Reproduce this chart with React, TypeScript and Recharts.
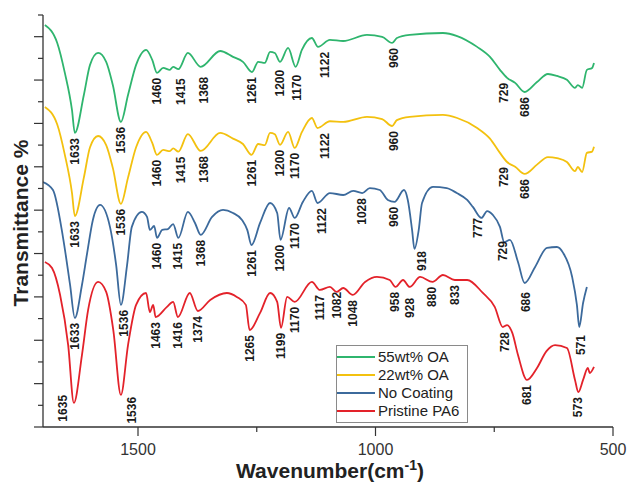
import React from 'react';
import { ComposedChart, Line, Scatter, XAxis, YAxis, Legend } from 'recharts';

// wavenumber (cm-1), transmittance (offset, arbitrary units)
const green55 = [
  [1696, 18.54], [1670, 17.71], [1654, 16.33], [1639, 14.62], [1633, 13.56], [1614, 15.31],
  [1601, 16.7], [1584, 17.25], [1567, 16.84], [1553, 15.77], [1536, 14.07], [1521, 15.31],
  [1504, 16.7], [1483, 17.39], [1470, 16.93], [1460, 16.33], [1447, 16.56], [1433, 16.47],
  [1426, 16.61], [1415, 16.5], [1395, 17.25], [1368, 16.61], [1327, 17.34], [1300, 17.07],
  [1279, 16.84], [1260, 16.37], [1247, 16.84], [1233, 16.79], [1222, 17.3], [1212, 17.25],
  [1201, 16.84], [1184, 17.48], [1168, 16.61], [1155, 17.39], [1134, 17.94], [1121, 17.53],
  [1096, 17.85], [1068, 17.8], [1018, 18.08], [986, 17.99], [965, 17.71], [955, 17.94],
  [928, 18.08], [858, 18.17], [828, 18.03], [786, 17.53], [759, 17.07], [738, 16.47],
  [723, 16.1], [706, 15.87], [686, 15.45], [660, 15.91], [637, 16.28], [618, 16.19],
  [597, 16.01], [580, 15.64], [574, 15.77], [565, 15.64], [555, 16.47], [544, 16.56],
  [540, 16.79],
];

const yellow22 = [
  [1696, 14.76], [1670, 13.95], [1654, 12.55], [1639, 10.8], [1633, 9.73], [1614, 11.5],
  [1601, 12.9], [1584, 13.42], [1567, 13.0], [1553, 11.95], [1536, 10.29], [1521, 11.5],
  [1504, 12.9], [1483, 13.61], [1470, 13.1], [1460, 12.55], [1447, 12.78], [1433, 12.72],
  [1426, 12.85], [1415, 12.7], [1395, 13.51], [1368, 12.73], [1327, 13.56], [1300, 13.3],
  [1279, 13.05], [1261, 12.55], [1247, 13.05], [1233, 13.0], [1222, 13.56], [1212, 13.5],
  [1201, 13.01], [1184, 13.61], [1170, 12.87], [1155, 13.6], [1134, 14.25], [1122, 13.79],
  [1096, 14.1], [1068, 14.07], [1018, 14.3], [986, 14.2], [965, 13.88], [955, 14.15],
  [928, 14.3], [858, 14.39], [828, 14.25], [786, 13.79], [759, 13.3], [738, 12.64],
  [723, 12.22], [706, 12.0], [686, 11.67], [660, 12.1], [637, 12.45], [618, 12.4],
  [597, 12.22], [580, 11.8], [574, 11.99], [565, 11.76], [555, 12.64], [544, 12.7],
  [540, 12.92],
];

const noCoating = [
  [1700, 11.3], [1679, 10.93], [1658, 8.76], [1643, 6.55], [1633, 5.03], [1618, 6.55],
  [1607, 8.03], [1595, 9.55], [1580, 10.24], [1559, 9.23], [1546, 7.47], [1536, 5.63],
  [1523, 7.47], [1513, 9.23], [1492, 9.92], [1481, 9.69], [1475, 9.09], [1466, 9.27],
  [1460, 8.72], [1449, 9.09], [1437, 9.13], [1426, 9.36], [1415, 8.72], [1395, 9.92],
  [1380, 9.41], [1368, 8.86], [1344, 9.69], [1321, 10.01], [1300, 9.87], [1281, 9.55],
  [1270, 9.09], [1261, 8.39], [1243, 9.41], [1222, 10.33], [1207, 9.87], [1200, 8.63],
  [1182, 10.1], [1170, 9.64], [1153, 10.38], [1134, 10.89], [1122, 10.33], [1096, 10.79],
  [1068, 10.7], [1047, 10.89], [1028, 10.79], [1012, 11.02], [991, 10.93], [974, 10.47],
  [960, 10.38], [940, 10.93], [932, 10.47], [923, 9.09], [918, 8.21], [909, 9.09],
  [902, 10.33], [879, 11.07], [850, 11.02], [829, 10.79], [807, 10.47], [795, 10.15],
  [777, 9.64], [765, 9.96], [753, 9.78], [738, 9.23], [729, 8.53], [717, 8.63],
  [700, 7.61], [686, 6.64], [664, 7.38], [639, 8.26], [618, 8.3], [605, 8.03],
  [586, 6.92], [576, 5.63], [571, 4.61], [563, 5.72], [555, 6.46],
];

const pristinePA6 = [
  [1696, 7.61], [1681, 7.33], [1664, 6.09], [1647, 3.78], [1635, 1.11], [1618, 3.32],
  [1605, 5.4], [1584, 6.69], [1567, 6.23], [1552, 4.47], [1536, 1.48], [1521, 3.78],
  [1504, 5.63], [1483, 6.18], [1475, 5.3], [1468, 5.63], [1463, 5.07], [1439, 5.54],
  [1426, 5.77], [1416, 5.07], [1391, 6.18], [1374, 5.35], [1348, 5.86], [1313, 6.18],
  [1292, 6.0], [1273, 5.63], [1265, 4.47], [1243, 5.26], [1222, 6.18], [1207, 5.77],
  [1199, 4.57], [1186, 6.0], [1170, 5.77], [1134, 6.69], [1117, 6.32], [1096, 6.46],
  [1082, 6.23], [1068, 6.41], [1048, 6.09], [1022, 6.69], [997, 6.92], [970, 6.78],
  [958, 6.46], [942, 6.78], [928, 6.46], [906, 6.92], [880, 6.69], [858, 7.01],
  [833, 6.78], [807, 6.78], [774, 6.18], [749, 5.54], [732, 4.61], [723, 4.7],
  [712, 4.34], [700, 3.32], [681, 2.17], [660, 2.72], [640, 3.5], [622, 3.78], [597, 3.64],
  [580, 2.17], [573, 1.61], [563, 2.17], [553, 2.72], [549, 2.49], [540, 2.77],
];

const greenPeaks = ['1633', '1536', '1460', '1415', '1368', '1261', '1200', '1170', '1122', '960', '729', '686'];
const yellowPeaks = ['1633', '1536', '1460', '1415', '1368', '1261', '1200', '1170', '1122', '960', '729', '686'];
const bluePeaks = ['1633', '1536', '1460', '1415', '1368', '1261', '1200', '1170', '1122', '1028', '960', '918', '777', '729', '686', '571'];
const redPeaks = ['1635', '1536', '1463', '1416', '1374', '1265', '1199', '1170', '1117', '1082', '1048', '958', '928', '880', '833', '728', '681', '573'];

const xTicks = [1500, 1250, 1000, 750, 500];
const yTicks = Array.from({ length: 20 }, (_, i) => i);

const SERIES = [
  { key: 'green', name: '55wt% OA', color: '#2fb56e', points: green55, peaks: greenPeaks },
  { key: 'yellow', name: '22wt% OA', color: '#f3c10f', points: yellow22, peaks: yellowPeaks },
  { key: 'blue', name: 'No Coating', color: '#3c6a9c', points: noCoating, peaks: bluePeaks },
  { key: 'red', name: 'Pristine PA6', color: '#e3222a', points: pristinePA6, peaks: redPeaks },
];

// small pixel nudges for peak labels that sit off the dip
const NUDGE: Record<string, [number, number]> = {
  'red-1635': [-11, -13],
  'red-1536': [11, -3],
  'red-928': [0, 6],
  'red-1082': [0, -5],
  'blue-1536': [3, 0],
  'blue-918': [8, -3],
  'blue-1122': [4, 0],
  'blue-777': [-3, -5],
  'blue-729': [-1, -6],
  'blue-686': [1, 4],
  'blue-571': [2, 3],
  'green-1122': [7, 0],
  'yellow-1122': [7, 0],
  'green-1415': [3, 4],
  'green-1368': [3, 5],
  'green-1200': [0, 3],
  'green-1170': [2, 3],
  'yellow-1415': [3, 0],
  'yellow-1368': [3, 0],
};

const FONT = 'Arial, "Liberation Sans", sans-serif';

const toXY = (pts: number[][]) => pts.map(([x, y]) => ({ x, y }));

const peakData = (s: typeof SERIES[number]) =>
  s.peaks.map((t) => {
    const wn = Number(t);
    const near = s.points.filter(([x]) => Math.abs(x - wn) <= 7).map(([, y]) => y);
    const y = near.length ? Math.min(...near) : s.points.reduce((a, b) => (Math.abs(b[0] - wn) < Math.abs(a[0] - wn) ? b : a))[1];
    return { x: wn, y, text: t, id: `${s.key}-${t}` };
  });

const PeakLabel = (props: any) => {
  const { cx, cy, payload } = props;
  const [dx, dy] = NUDGE[payload.id] || [0, 0];
  const x = cx + dx;
  const y = cy + 5 + dy;
  return (
    <text
      x={x}
      y={y}
      transform={`rotate(-90 ${x} ${y})`}
      textAnchor="end"
      dominantBaseline="central"
      fontSize={12}
      fontWeight="bold"
      fontFamily={FONT}
      fill="#1a1a1a"
    >
      {payload.text}
    </text>
  );
};

const XTick = (props: any) => {
  const { x, y, payload } = props;
  const major = payload.value % 500 === 0;
  return (
    <g>
      <line x1={x} x2={x} y1={y} y2={y + (major ? 9 : 5)} stroke="#333" strokeWidth={1.2} />
      {major && (
        <text x={x} y={y + 28} textAnchor="middle" fontSize={16} fontFamily={FONT} fill="#333">
          {payload.value}
        </text>
      )}
    </g>
  );
};

const YTick = (props: any) => {
  const { x, y, payload } = props;
  const major = payload.value % 2 === 0;
  return <line x1={x} x2={x - (major ? 9 : 5)} y1={y} y2={y} stroke="#333" strokeWidth={1.2} />;
};

const XTitle = (props: any) => {
  const { x, y, width } = props.viewBox;
  return (
    <text x={x + width / 2 + 2} y={y + 51} textAnchor="middle" fontSize={21} fontWeight="bold" fontFamily={FONT} fill="#222">
      <tspan>Wavenumber(cm</tspan>
      <tspan dy={-8} fontSize={14}>-1</tspan>
      <tspan dy={8}>)</tspan>
    </text>
  );
};

const YTitle = (props: any) => {
  const { y, height } = props.viewBox;
  const cx = 20;
  const cy = y + height / 2 + 2;
  return (
    <text
      x={cx}
      y={cy}
      transform={`rotate(-90 ${cx} ${cy})`}
      textAnchor="middle"
      dominantBaseline="central"
      fontSize={21}
      fontWeight="bold"
      fontFamily={FONT}
      fill="#222"
    >
      Transmittance %
    </text>
  );
};

const LegendBox = () => (
  <div
    style={{
      border: '1px solid #8a8a8a',
      background: '#fff',
      padding: '2px 8px 2px 0',
      fontFamily: FONT,
      fontSize: 15,
      color: '#222',
      lineHeight: '18px',
    }}
  >
    {SERIES.map((s) => (
      <div key={s.key} style={{ display: 'flex', alignItems: 'center', height: 18, whiteSpace: 'nowrap' }}>
        <span style={{ display: 'inline-block', width: 38, height: 2, background: s.color, marginRight: 3 }} />
        {s.name}
      </div>
    ))}
  </div>
);

export default function App() {
  return (
    <div style={{ position: 'absolute', left: 0, top: 0 }}>
      <ComposedChart width={630} height={485} margin={{ top: 15, right: 17, bottom: 0, left: 0 }}>
        <XAxis
          type="number"
          dataKey="x"
          domain={[500, 1700]}
          reversed
          allowDataOverflow
          ticks={xTicks}
          interval={0}
          tickSize={0}
          tickMargin={0}
          tick={<XTick />}
          height={58}
          axisLine={{ stroke: '#333', strokeWidth: 1.3 }}
          label={<XTitle />}
        />
        <YAxis
          type="number"
          domain={[0, 19]}
          allowDataOverflow
          ticks={yTicks}
          interval={0}
          tickSize={0}
          tickMargin={0}
          tick={<YTick />}
          width={43}
          axisLine={{ stroke: '#333', strokeWidth: 1.3 }}
          label={<YTitle />}
        />
        {SERIES.map((s) => (
          <Line
            key={s.key}
            data={toXY(s.points)}
            dataKey="y"
            name={s.name}
            type="monotone"
            stroke={s.color}
            strokeWidth={1.8}
            dot={false}
            activeDot={false}
            isAnimationActive={false}
          />
        ))}
        {SERIES.map((s) => (
          <Scatter
            key={`${s.key}-peaks`}
            data={peakData(s)}
            dataKey="y"
            legendType="none"
            shape={<PeakLabel />}
            isAnimationActive={false}
          />
        ))}
        <Legend
          layout="vertical"
          align="center"
          verticalAlign="middle"
          content={<LegendBox />}
          wrapperStyle={{ position: 'absolute', left: 336, top: 345, width: 'auto' }}
        />
      </ComposedChart>
    </div>
  );
}
